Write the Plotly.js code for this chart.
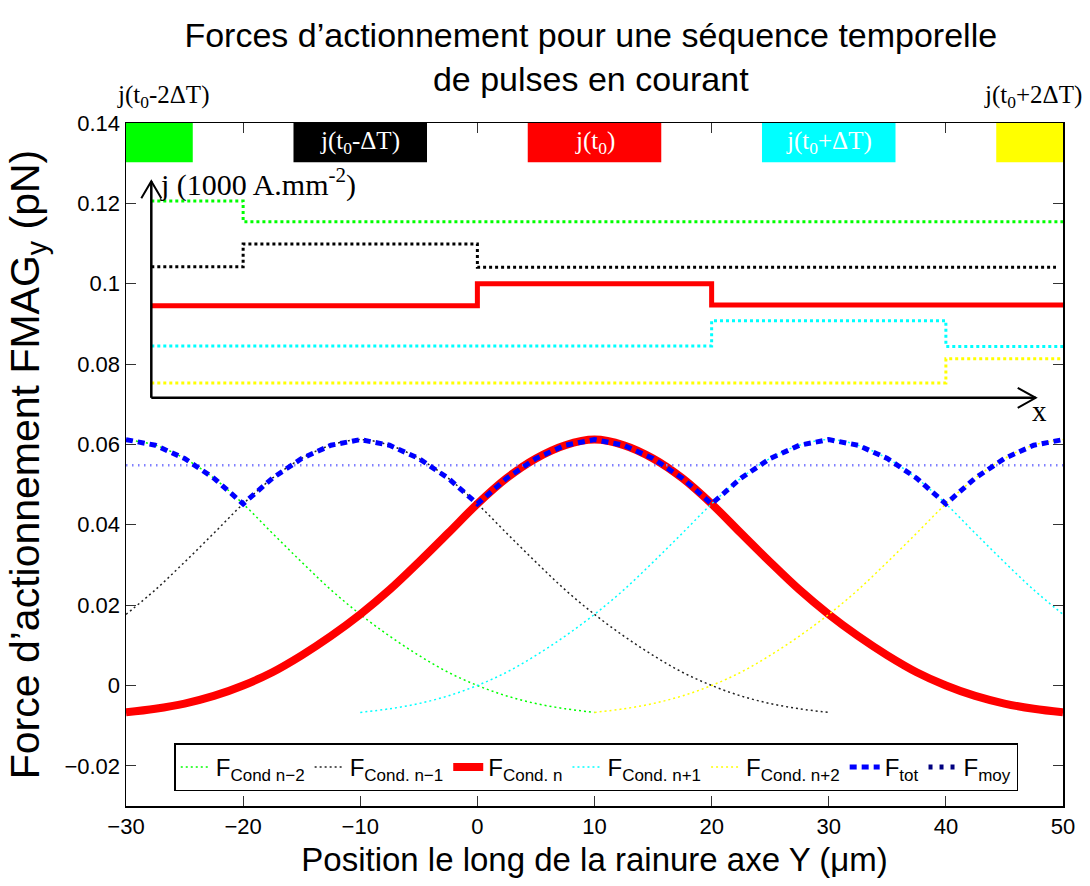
<!DOCTYPE html>
<html>
<head>
<meta charset="utf-8">
<script src="https://cdn.plot.ly/plotly-3.0.1.min.js"></script>
<style>html,body{margin:0;padding:0;background:#fff;}#chart{width:1090px;height:886px;}</style>
</head>
<body>
<div id="chart"></div>
<script>
// ---- Force curves (pN) vs position (µm) ----
const xFull = [-30,-27.5,-25,-22.5,-20,-17.5,-15,-12.5,-10,-7.5,-5,-2.5,0,2.5,5,7.5,10,12.5,15,17.5,20,22.5,25,27.5,30,32.5,35,37.5,40,42.5,45,47.5,50];
const fCondN = [-0.0067,-0.0058,-0.0045,-0.0026,0.0000,0.0033,0.0075,0.0123,0.0177,0.0238,0.0307,0.0379,0.0452,0.0516,0.0565,0.0598,0.0612,0.0598,0.0565,0.0516,0.0452,0.0379,0.0307,0.0238,0.0177,0.0123,0.0075,0.0033,0.0000,-0.0026,-0.0045,-0.0058,-0.0067];

const xCondNm1 = [-30,-27.5,-25,-22.5,-20,-17.5,-15,-12.5,-10,-7.5,-5,-2.5,0,2.5,5,7.5,10,12.5,15,17.5,20,22.5,25,27.5,30];
const fCondNm1 = [0.0177,0.0238,0.0307,0.0379,0.0452,0.0516,0.0565,0.0598,0.0612,0.0598,0.0565,0.0516,0.0452,0.0379,0.0307,0.0238,0.0177,0.0123,0.0075,0.0033,0.0000,-0.0026,-0.0045,-0.0058,-0.0067];

const xCondNm2 = [-30,-27.5,-25,-22.5,-20,-17.5,-15,-12.5,-10,-7.5,-5,-2.5,0,2.5,5,7.5,10];
const fCondNm2 = [0.0612,0.0598,0.0565,0.0516,0.0452,0.0379,0.0307,0.0238,0.0177,0.0123,0.0075,0.0033,0.0000,-0.0026,-0.0045,-0.0058,-0.0067];

const xCondNp1 = [-10,-7.5,-5,-2.5,0,2.5,5,7.5,10,12.5,15,17.5,20,22.5,25,27.5,30,32.5,35,37.5,40,42.5,45,47.5,50];
const fCondNp1 = [-0.0067,-0.0058,-0.0045,-0.0026,0.0000,0.0033,0.0075,0.0123,0.0177,0.0238,0.0307,0.0379,0.0452,0.0516,0.0565,0.0598,0.0612,0.0598,0.0565,0.0516,0.0452,0.0379,0.0307,0.0238,0.0177];

const xCondNp2 = [10,12.5,15,17.5,20,22.5,25,27.5,30,32.5,35,37.5,40,42.5,45,47.5,50];
const fCondNp2 = [-0.0067,-0.0058,-0.0045,-0.0026,0.0000,0.0033,0.0075,0.0123,0.0177,0.0238,0.0307,0.0379,0.0452,0.0516,0.0565,0.0598,0.0612];

const fTot = [0.0612,0.0598,0.0565,0.0516,0.0452,0.0516,0.0565,0.0598,0.0612,0.0598,0.0565,0.0516,0.0452,0.0516,0.0565,0.0598,0.0612,0.0598,0.0565,0.0516,0.0452,0.0516,0.0565,0.0598,0.0612,0.0598,0.0565,0.0516,0.0452,0.0516,0.0565,0.0598,0.0612];

const xMoy = [-30, 50];
const fMoy = [0.0548, 0.0548];

// ---- Inset: current density steps (schematic, drawn in plot units) ----
const stepGreenX = [-27.84,-20,50];       const stepGreenY = [0.1206,0.1154,0.1154];
const stepBlackX = [-27.84,-20,0,49.4];   const stepBlackY = [0.1042,0.1099,0.1041,0.1041];
const stepRedX   = [-27.84,0,20,50];      const stepRedY   = [0.0945,0.1000,0.0947,0.0947];
const stepCyanX  = [-27.84,20,40,50];     const stepCyanY  = [0.0845,0.0908,0.0844,0.0844];
const stepYellowX= [-27.84,40,50];        const stepYellowY= [0.0753,0.0813,0.0813];

// ---- Top pulse boxes ----
const boxCenters = [-30,-10,10,30,50];
const boxColors  = ['#00ff00','#000000','#ff0000','#00ffff','#ffff00'];
const boxLabels  = ['', 'j(t<sub>0</sub>-ΔT)', 'j(t<sub>0</sub>)', 'j(t<sub>0</sub>+ΔT)', ''];
const outerLabels = ['j(t<sub>0</sub>-2ΔT)', 'j(t<sub>0</sub>+2ΔT)'];
const outerLabelX = [-26.8, 47.4];

const xTicks = [-30,-20,-10,0,10,20,30,40,50];
const xTickText = ['−30','−20','−10','0','10','20','30','40','50'];
const yTicks = [-0.02,0,0.02,0.04,0.06,0.08,0.1,0.12,0.14];
const yTickText = ['−0.02','0','0.02','0.04','0.06','0.08','0.1','0.12','0.14'];

const SANS = '"Liberation Sans", Arial, sans-serif';
const SERIF = '"Liberation Serif", "Times New Roman", serif';

const XR = [-30, 50], YR = [-0.03, 0.14];
const L = 126, R = 27, T = 123, B = 80, W = 1090, H = 886;
const dxpp = (XR[1]-XR[0]) / (W-L-R);
const dypp = (YR[1]-YR[0]) / (H-T-B);

function leg(txt){ return 'F<sub><span style="font-size:17px">' + txt + '</span></sub>'; }

const thinDot = '2px,3px';
const traces = [
  {x:xCondNm2, y:fCondNm2, mode:'lines', name:leg('Cond n−2'), line:{color:'#00ff00', width:1.5, dash:thinDot, shape:'spline'}},
  {x:xCondNm1, y:fCondNm1, mode:'lines', name:leg('Cond. n−1'), line:{color:'#222222', width:1.5, dash:thinDot, shape:'spline'}},
  {x:xFull, y:fCondN, mode:'lines', name:leg('Cond. n'), line:{color:'#ff0000', width:8, shape:'spline'}},
  {x:xCondNp1, y:fCondNp1, mode:'lines', name:leg('Cond. n+1'), line:{color:'#00ffff', width:1.5, dash:thinDot, shape:'spline'}},
  {x:xCondNp2, y:fCondNp2, mode:'lines', name:leg('Cond. n+2'), line:{color:'#ffff00', width:1.5, dash:thinDot, shape:'spline'}},
  {x:xMoy, y:fMoy, mode:'lines', showlegend:false, line:{color:'#8080ff', width:2.5, dash:'1.5px,4.5px'}},
  {x:xFull, y:fTot, mode:'lines', name:leg('tot'), line:{color:'#0000ff', width:5, dash:'7px,5px'}},
  {x:[null], y:[null], mode:'lines', name:leg('moy'), line:{color:'#000080', width:5, dash:'4px,7px'}},
  // inset step lines
  {x:stepGreenX, y:stepGreenY, mode:'lines', showlegend:false, line:{color:'#00ff00', width:3, dash:'3px,3px', shape:'hv'}},
  {x:stepBlackX, y:stepBlackY, mode:'lines', showlegend:false, line:{color:'#000000', width:3, dash:'3px,3px', shape:'hv'}},
  {x:stepRedX, y:stepRedY, mode:'lines', showlegend:false, line:{color:'#ff0000', width:5, shape:'hv'}},
  {x:stepCyanX, y:stepCyanY, mode:'lines', showlegend:false, line:{color:'#00ffff', width:3, dash:'3px,3px', shape:'hv'}},
  {x:stepYellowX, y:stepYellowY, mode:'lines', showlegend:false, line:{color:'#ffff00', width:3, dash:'3px,3px', shape:'hv'}}
];

// inset axes
const inX0 = -27.84, inY0 = 0.0716, inXEnd = 47.67, inYEnd = 0.1255;
const shapes = [];
const boxHalf = 5.7, boxY0 = 0.1302, boxY1 = 0.14;
boxCenters.forEach((c,i)=>{
  shapes.push({type:'rect', xref:'x', yref:'y', x0:Math.max(c-boxHalf, XR[0]), x1:Math.min(c+boxHalf, XR[1]), y0:boxY0, y1:boxY1, fillcolor:boxColors[i], line:{width:0}, layer:'above'});
});
shapes.push({type:'line', xref:'x', yref:'y', x0:inX0, y0:inY0, x1:inX0, y1:inYEnd, line:{color:'#000', width:2.5}});
shapes.push({type:'line', xref:'x', yref:'y', x0:inX0, y0:inY0, x1:inXEnd, y1:inY0, line:{color:'#000', width:2.5}});
// arrow heads (open V)
shapes.push({type:'path', xref:'x', yref:'y', path:
  `M${inX0-10*dxpp},${inYEnd-17*dypp} L${inX0},${inYEnd} L${inX0+10*dxpp},${inYEnd-17*dypp}`, line:{color:'#000', width:2}});
shapes.push({type:'path', xref:'x', yref:'y', path:
  `M${inXEnd-18*dxpp},${inY0+10*dypp} L${inXEnd},${inY0} L${inXEnd-18*dxpp},${inY0-10*dypp}`, line:{color:'#000', width:2}});

const annotations = [];
boxCenters.forEach((c,i)=>{
  if (boxLabels[i]) annotations.push({xref:'x', yref:'y', x:c, y:(boxY0+boxY1)/2, text:boxLabels[i], showarrow:false, font:{family:SERIF, size:25, color:'#fff'}, xanchor:'center', yanchor:'middle'});
});
outerLabels.forEach((t,i)=>{
  annotations.push({xref:'x', yref:'paper', x:outerLabelX[i], y:1.0385, text:t, showarrow:false, font:{family:SERIF, size:25, color:'#000'}, xanchor:'center', yanchor:'middle'});
});
annotations.push({xref:'x', yref:'y', x:inX0+0.55, y:0.1252, text:'j (1000 A.mm<sup>-2</sup>)', showarrow:false, font:{family:SERIF, size:30, color:'#000'}, xanchor:'left', yanchor:'middle'});
annotations.push({xref:'x', yref:'y', x:48.0, y:0.0684, text:'x', showarrow:false, font:{family:SERIF, size:29, color:'#000'}, xanchor:'center', yanchor:'middle'});

const axisCommon = {showline:true, linecolor:'#000', linewidth:1.5, mirror:'ticks', ticks:'inside', ticklen:10, tickwidth:1, tickcolor:'#333', showgrid:false, zeroline:false, automargin:false};

const layout = {
  width:W, height:H,
  margin:{l:L, r:R, t:T, b:B},
  paper_bgcolor:'#fff', plot_bgcolor:'#fff',
  title:{text:'Forces d’actionnement pour une séquence temporelle<br>de pulses en courant', font:{family:SANS, size:34, color:'#000'}, x:0.542, xanchor:'center', y:0.947, yanchor:'middle'},
  xaxis:Object.assign({}, axisCommon, {range:XR, tickvals:xTicks, ticktext:xTickText, tickfont:{family:SANS, size:22, color:'#000'},
    title:{text:'Position le long de la rainure axe Y (μm)', font:{family:SANS, size:33, color:'#000'}, standoff:10}}),
  yaxis:Object.assign({}, axisCommon, {range:YR, tickvals:yTicks, ticktext:yTickText, tickfont:{family:SANS, size:22, color:'#000'},
    title:{text:'Force d’actionnement FMAG<sub>y</sub> (pN)', font:{family:SANS, size:41, color:'#000'}, standoff:12}}),
  showlegend:true,
  legend:{orientation:'h', x:0.0515, y:0.0917, xanchor:'left', yanchor:'top', bgcolor:'#fff', bordercolor:'#000', borderwidth:1.5,
    font:{family:SANS, size:24, color:'#000'}, traceorder:'normal', itemwidth:30, tracegroupgap:0},
  shapes:shapes, annotations:annotations
};

Plotly.newPlot('chart', traces, layout, {staticPlot:true, displayModeBar:false});
</script>
</body>
</html>
